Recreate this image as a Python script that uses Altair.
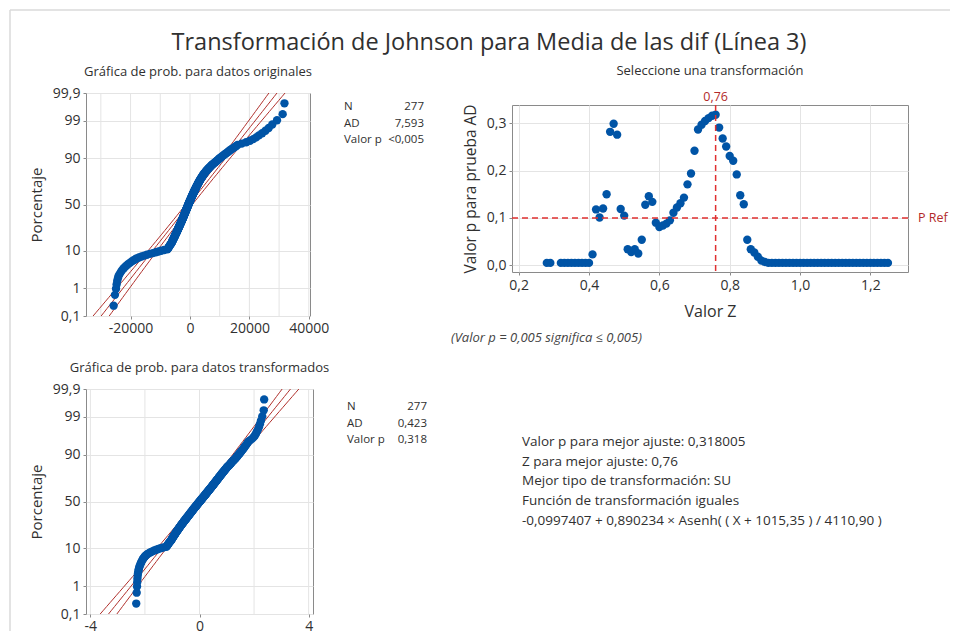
import numpy as np
import pandas as pd
import altair as alt
from statistics import NormalDist

# ---------------------------------------------------------------- data
# "Media de las dif" (Línea 3), sorted, n = 277
ORIGINAL = [
    -25700, -25250, -24900, -24700, -24500, -24250, -24000, -23600, -23200, -22800,
    -22300, -21800, -21300, -20800, -20200, -19700, -19100, -18500, -18000, -17200,
    -16300, -15400, -14500, -13500, -12500, -11500, -10600, -9700, -8700, -7600,
    -7450, -7300, -7150, -7020, -6900, -6760, -6620, -6480, -6340, -6200,
    -6110, -6030, -5940, -5860, -5770, -5690, -5600, -5520, -5430, -5350,
    -5270, -5200, -5120, -5050, -4970, -4900, -4820, -4750, -4670, -4600,
    -4530, -4470, -4400, -4340, -4270, -4210, -4140, -4080, -4010, -3950,
    -3890, -3830, -3770, -3710, -3650, -3590, -3530, -3470, -3410, -3350,
    -3295, -3240, -3185, -3130, -3075, -3020, -2965, -2910, -2855, -2800,
    -2750, -2700, -2650, -2600, -2550, -2500, -2450, -2400, -2350, -2300,
    -2250, -2210, -2160, -2110, -2070, -2020, -1970, -1920, -1880, -1830,
    -1790, -1740, -1700, -1650, -1610, -1560, -1520, -1470, -1430, -1380,
    -1330, -1290, -1240, -1200, -1150, -1100, -1060, -1010, -970, -920,
    -875, -830, -785, -740, -695, -650, -605, -560, -515, -470,
    -420, -380, -330, -280, -240, -190, -140, -90, -50, 0,
    50, 100, 140, 190, 240, 290, 340, 380, 430, 480,
    530, 580, 630, 680, 730, 780, 830, 880, 930, 980,
    1030, 1090, 1140, 1200, 1250, 1300, 1360, 1410, 1470, 1520,
    1580, 1640, 1690, 1750, 1810, 1870, 1930, 1990, 2040, 2100,
    2165, 2230, 2295, 2360, 2425, 2490, 2555, 2620, 2685, 2750,
    2825, 2900, 2975, 3050, 3125, 3200, 3275, 3350, 3425, 3500,
    3590, 3680, 3770, 3860, 3950, 4040, 4130, 4220, 4310, 4400,
    4520, 4640, 4760, 4880, 5000, 5120, 5240, 5360, 5480, 5600,
    5780, 5960, 6140, 6320, 6500, 6680, 6860, 7040, 7220, 7400,
    7660, 7920, 8180, 8440, 8700, 8960, 9220, 9480, 9740, 10000,
    10340, 10680, 11020, 11360, 11700, 12120, 12540, 12960, 13380, 13800,
    14350, 14900, 15450, 16000, 17400, 18900, 20200, 21300, 22300, 23200,
    24300, 25400, 26500, 27700, 29300, 31200, 31800,
]

# Johnson SU parameters of the selected transformation
GAMMA = -0.0997407
DELTA = 0.890234
XI = -1015.35
LAMBDA = 4110.90

# AD p-value for each candidate z
Z_GRID = [
    0.28, 0.29, 0.32, 0.33, 0.34, 0.35, 0.36, 0.37, 0.38, 0.39, 0.40,
    0.41, 0.42, 0.43, 0.44, 0.45, 0.46, 0.47, 0.48, 0.49, 0.50,
    0.51, 0.52, 0.53, 0.54, 0.55, 0.56, 0.57, 0.58, 0.59, 0.60,
    0.61, 0.62, 0.63, 0.64, 0.65, 0.66, 0.67, 0.68, 0.69, 0.70,
    0.71, 0.72, 0.73, 0.74, 0.75, 0.76, 0.77, 0.78, 0.79, 0.80,
    0.81, 0.82, 0.83, 0.84, 0.85, 0.86, 0.87, 0.88, 0.89, 0.90,
    0.91, 0.92, 0.93, 0.94, 0.95, 0.96, 0.97, 0.98, 0.99, 1.00,
    1.01, 1.02, 1.03, 1.04, 1.05, 1.06, 1.07, 1.08, 1.09, 1.10,
    1.11, 1.12, 1.13, 1.14, 1.15, 1.16, 1.17, 1.18, 1.19, 1.20,
    1.21, 1.22, 1.23, 1.24, 1.25,
]
P_AD = [
    0.005, 0.005, 0.005, 0.005, 0.005, 0.005, 0.005, 0.005, 0.005, 0.005, 0.005,
    0.023, 0.118, 0.101, 0.120, 0.150, 0.282, 0.299, 0.276, 0.119, 0.105,
    0.034, 0.028, 0.034, 0.025, 0.054, 0.128, 0.146, 0.134, 0.090, 0.081,
    0.084, 0.088, 0.095, 0.111, 0.122, 0.131, 0.143, 0.171, 0.194, 0.242,
    0.287, 0.297, 0.305, 0.311, 0.316, 0.318, 0.291, 0.268, 0.251, 0.231,
    0.221, 0.192, 0.148, 0.129, 0.054, 0.034, 0.027, 0.018, 0.010, 0.007,
    0.005, 0.005, 0.005, 0.005, 0.005, 0.005, 0.005, 0.005, 0.005, 0.005,
    0.005, 0.005, 0.005, 0.005, 0.005, 0.005, 0.005, 0.005, 0.005, 0.005,
    0.005, 0.005, 0.005, 0.005, 0.005, 0.005, 0.005, 0.005, 0.005, 0.005,
    0.005, 0.005, 0.005, 0.005, 0.005,
]
BEST_Z = 0.76
P_REF = 0.10

PROB_TICKS = [0.1, 1, 10, 50, 90, 99, 99.9]
PROB_LABELS = ["0,1", "1", "10", "50", "90", "99", "99,9"]

ORIG_X_TICKS = [-20000, 0, 20000, 40000]
ORIG_X_GRID = [-30000, -20000, -10000, 0, 10000, 20000, 30000, 40000]
ORIG_X_DOMAIN = [-35000, 40400]
TRANS_X_TICKS = [-4, 0, 4]
TRANS_X_GRID = [-4, -2, 0, 2, 4]
TRANS_X_DOMAIN = [-4.16, 4.16]
SEL_X_TICKS = [0.2, 0.4, 0.6, 0.8, 1.0, 1.2]
SEL_Y_TICKS = [0.0, 0.1, 0.2, 0.3]
SEL_X_DOMAIN = [0.181, 1.307]
SEL_Y_DOMAIN = [-0.0142, 0.3387]

STATS_ORIG = [("N", "277"), ("AD", "7,593"), ("Valor p", "<0,005")]
STATS_TRANS = [("N", "277"), ("AD", "0,423"), ("Valor p", "0,318")]
SUMMARY = [
    "Valor p para mejor ajuste: 0,318005",
    "Z para mejor ajuste: 0,76",
    "Mejor tipo de transformación: SU",
    "Función de transformación iguales",
    "-0,0997407 + 0,890234 × Asenh( ( X + 1015,35 ) / 4110,90 )",
]
NOTE = "(Valor p = 0,005 significa ≤ 0,005)"

TITLE = "Transformación de Johnson para Media de las dif (Línea 3)"
TITLE_ORIG = "Gráfica de prob. para datos originales"
TITLE_SEL = "Seleccione una transformación"
TITLE_TRANS = "Gráfica de prob. para datos transformados"

# ---------------------------------------------------------------- style
FONT = "Open Sans"
BLUE = "#0054A6"
FIT_RED = "#B0302C"
REF_RED = "#E03030"
LABEL_RED = "#B22A2A"
TEXT = "#303030"
GRID = "#E4E4E4"
FRAME = "#8A8A8A"
DOT = 70

# panel sizes (plot areas)
WA, HA = 224, 223
WB, HB = 396, 167
WC, HC = 227, 225

nd = NormalDist()
N = len(ORIGINAL)
PROB_Z = [nd.inv_cdf(p / 100) for p in PROB_TICKS]
Z_LO, Z_HI = PROB_Z[0], PROB_Z[-1]
RANK_Z = [nd.inv_cdf((i - 0.3) / (N + 0.4)) for i in range(1, N + 1)]

transformed = [GAMMA + DELTA * np.arcsinh((x - XI) / LAMBDA) for x in ORIGINAL]


def prob_label_expr():
    expr = f"'{PROB_LABELS[-1]}'"
    for k in range(len(PROB_Z) - 2, -1, -1):
        cut = (PROB_Z[k] + PROB_Z[k + 1]) / 2
        expr = f"datum.value < {cut:.4f} ? '{PROB_LABELS[k]}' : ({expr})"
    return expr


def fit_frame(values):
    """Fitted normal line with its 95% confidence band."""
    v = np.asarray(values, dtype=float)
    mu, sd = v.mean(), v.std(ddof=1)
    zs = np.linspace(Z_LO, Z_HI, 61)
    half = 1.96 * sd * np.sqrt(1 / N + zs ** 2 / (2 * (N - 1)))
    rows = []
    for band, off in (("lo", -half), ("mid", 0 * half), ("hi", half)):
        for z, o in zip(zs, off):
            rows.append({"x": mu + sd * z + o, "y": z, "band": band})
    return pd.DataFrame(rows)


def label(text, x, y, size=11, align="left", color=TEXT, **kw):
    return alt.Chart(pd.DataFrame({"t": [text]})).mark_text(
        align=align, baseline="middle", fontSize=size, color=color, font=FONT, **kw
    ).encode(x=alt.value(x), y=alt.value(y), text="t:N")


def axis_common(title_size=15):
    return dict(
        domain=False, tickSize=3, tickColor=FRAME, labelFontSize=14,
        labelColor=TEXT, labelFont=FONT, labelFlush=False, labelOverlap=False,
        titleFont=FONT, titleFontSize=title_size, titleFontWeight="normal",
        titleColor=TEXT,
    )


def prob_panel(values, width, height, x_domain, x_ticks, x_grid, title, stats, stat_y0, extra):
    xenc = alt.X(
        "x:Q",
        scale=alt.Scale(domain=x_domain, nice=False, zero=False),
        axis=alt.Axis(values=x_ticks, labelExpr="'' + datum.value", grid=False,
                      labelPadding=2, **axis_common()),
        title=None,
    )
    yenc = alt.Y(
        "y:Q",
        scale=alt.Scale(domain=[Z_LO, Z_HI], nice=False, zero=False),
        axis=alt.Axis(values=PROB_Z, labelExpr=prob_label_expr(), grid=True,
                      gridColor=GRID, labelPadding=3, title="Porcentaje",
                      titleAngle=270, titleX=-50, titleY=height / 2,
                      titleAlign="center", titleBaseline="middle", **axis_common()),
    )
    pts = pd.DataFrame({"x": sorted(values), "y": RANK_Z})
    grid = alt.Chart(pd.DataFrame({"x": x_grid})).mark_rule(
        color=GRID, strokeWidth=1).encode(x=xenc)
    fit = alt.Chart(fit_frame(values)).mark_line(
        color=FIT_RED, strokeWidth=1).encode(x=xenc, y=yenc, detail="band:N", order="y:Q")
    dots = alt.Chart(pts).mark_circle(size=DOT, color=BLUE, opacity=1).encode(x=xenc, y=yenc)
    layers = [grid, fit, dots, label(title, width / 2, -21, size=13, align="center")]
    for k, (name, val) in enumerate(stats):
        y = stat_y0 + 16.5 * k
        layers.append(label(name, width + 34, y, size=11.5))
        layers.append(label(val, width + 114, y, size=11.5, align="right"))
    layers += extra
    return alt.layer(*layers).properties(width=width, height=height)


# ---------------------------------------------------------------- top-left
outer = [
    alt.Chart(pd.DataFrame({"a": [0]})).mark_rule(color="#DADADA", strokeWidth=1.5)
    .encode(x=alt.value(-76), x2=alt.value(864), y=alt.value(-83)),
    alt.Chart(pd.DataFrame({"a": [0]})).mark_rule(color="#DADADA", strokeWidth=1.5)
    .encode(x=alt.value(-76), y=alt.value(-83), y2=alt.value(538)),
    label(TITLE, 403, -50, size=23.5, align="center"),
]
panel_a = prob_panel(ORIGINAL, WA, HA, ORIG_X_DOMAIN, ORIG_X_TICKS, ORIG_X_GRID,
                     TITLE_ORIG, STATS_ORIG, 14, outer)

# ---------------------------------------------------------------- top-right
dec1 = "replace(format(datum.value, '.1f'), '.', ',')"
xb = alt.X(
    "x:Q",
    scale=alt.Scale(domain=SEL_X_DOMAIN, nice=False, zero=False),
    axis=alt.Axis(values=SEL_X_TICKS, labelExpr=dec1, grid=True, gridColor=GRID,
                  labelPadding=3, title="Valor Z", titleX=WB / 2, titleY=39,
                  titleAlign="center", titleBaseline="middle", **axis_common(16)),
)
yb = alt.Y(
    "y:Q",
    scale=alt.Scale(domain=SEL_Y_DOMAIN, nice=False, zero=False),
    axis=alt.Axis(values=SEL_Y_TICKS, labelExpr=dec1, grid=True, gridColor=GRID,
                  labelPadding=3, title="Valor p para prueba AD", titleAngle=270,
                  titleX=-42, titleY=HB / 2, titleAlign="center",
                  titleBaseline="middle", **axis_common(15.5)),
)
sel = pd.DataFrame({"x": Z_GRID, "y": P_AD})
best = pd.DataFrame({"x": [BEST_Z], "t": [f"{BEST_Z:.2f}".replace(".", ",")]})
pref = pd.DataFrame({"y": [P_REF], "t": ["P Ref"]})

panel_b = alt.layer(
    alt.Chart(sel).mark_circle(size=DOT, color=BLUE, opacity=1).encode(x=xb, y=yb),
    alt.Chart(best).mark_rule(color=REF_RED, strokeWidth=1.5, strokeDash=[6, 4]).encode(x=xb),
    alt.Chart(pref).mark_rule(color=REF_RED, strokeWidth=1.5, strokeDash=[6, 4]).encode(y=yb),
    alt.Chart(best).mark_text(color=LABEL_RED, fontSize=12.5, font=FONT, baseline="middle")
    .encode(x=xb, y=alt.value(-8), text="t:N"),
    alt.Chart(pref).mark_text(color=LABEL_RED, fontSize=12.5, font=FONT, align="left",
                              baseline="middle")
    .encode(x=alt.value(406), y=yb, text="t:N"),
    label(TITLE_SEL, WB / 2, -34, size=13, align="center"),
    label(NOTE, -61, 233, size=13, fontStyle="italic", color="#444444"),
).properties(width=WB, height=HB)

spacer = alt.Chart(pd.DataFrame({"a": [0]})).mark_point(opacity=0).encode(
    x=alt.value(0), y=alt.value(0)
).properties(width=WB, height=1, view=alt.ViewBackground(stroke="transparent"))

# ---------------------------------------------------------------- bottom-left
summary = [label(t, 436, 53 + 19.7 * k, size=13.5) for k, t in enumerate(SUMMARY)]
panel_c = prob_panel(transformed, WC, HC, TRANS_X_DOMAIN, TRANS_X_TICKS, TRANS_X_GRID,
                     TITLE_TRANS, STATS_TRANS, 18, summary)

# ---------------------------------------------------------------- layout
# flush bounds: the nested top row adds no height of its own, so the gap
# below it runs from the top of the first row
row1 = alt.hconcat(
    panel_a,
    alt.vconcat(spacer, panel_b, spacing=11, bounds="flush"),
    spacing=202, bounds="flush",
)
chart = (
    alt.vconcat(row1, panel_c, spacing=296, bounds="flush")
    .properties(padding={"left": 8, "top": 8, "right": 0, "bottom": 0},
                background="white")
    .configure(font=FONT)
    .configure_view(stroke=FRAME, strokeWidth=1)
)

chart.save("out.html", embed_options={"renderer": "svg", "actions": False})
